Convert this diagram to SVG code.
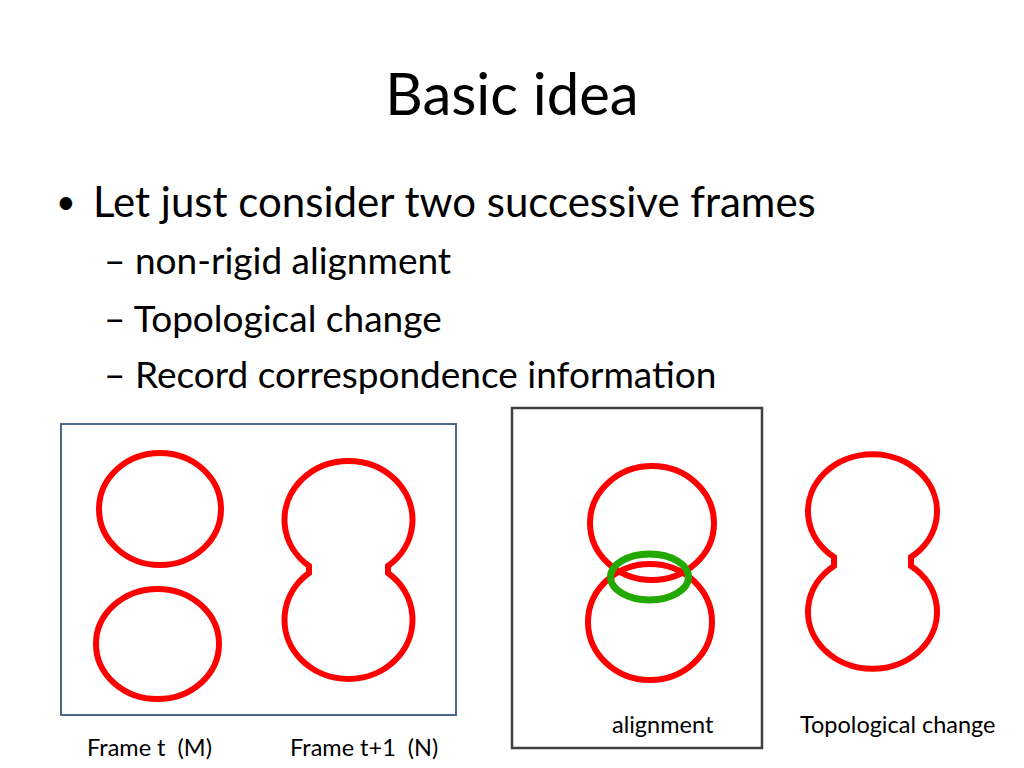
<svg xmlns="http://www.w3.org/2000/svg" width="1024" height="768" viewBox="0 0 1024 768">
<style>
.t{font-family:Lato,"Liberation Sans",sans-serif;fill:#000;white-space:pre}
.red{fill:none;stroke:#ff0000;stroke-width:6}
.grn{fill:none;stroke:#22a800;stroke-width:7}
.lbl{font-size:23.5px}
</style>
<rect width="1024" height="768" fill="#fff"/>
<g id="title"><text class="t" x="512" y="115" font-size="58" text-anchor="middle">Basic idea</text></g>
<g id="bullets">
<text class="t" x="56" y="214" font-size="34">•</text>
<text class="t" x="93" y="217" font-size="42">Let just consider two successive frames</text>
<text class="t" x="104" y="274" font-size="37">– non-rigid alignment</text>
<text class="t" x="104" y="332" font-size="37">– Topological change</text>
<text class="t" x="104" y="388" font-size="37">– Record correspondence information</text>
</g>
<g id="frames-box">
<rect x="61" y="424" width="395" height="291" fill="none" stroke="#4a6790" stroke-width="2"/>
<ellipse class="red" cx="160" cy="509" rx="61" ry="56"/>
<ellipse class="red" cx="157.5" cy="644" rx="61.5" ry="55"/>
<path class="red" d="M309,566 A64,58.8 0 1 1 388,566 L388,573 A64,59.3 0 1 1 309,573 Z"/>
</g>
<g id="alignment-box">
<rect x="512" y="408" width="250" height="340" fill="none" stroke="#404040" stroke-width="2.5"/>
<ellipse class="red" cx="652" cy="523" rx="62" ry="57"/>
<ellipse class="red" cx="650" cy="622" rx="62" ry="58"/>
<ellipse class="grn" cx="649.5" cy="577" rx="39" ry="23"/>
</g>
<g id="topo">
<path class="red" d="M834,557 A64.5,57 0 1 1 911,557 L911,566 A64.5,57 0 1 1 834,566 Z"/>
</g>
<g id="labels">
<text class="t lbl" x="87" y="756">Frame t  (M)</text>
<text class="t lbl" x="290" y="756">Frame t+1  (N)</text>
<text class="t lbl" x="612" y="733">alignment</text>
<text class="t lbl" x="800" y="733">Topological change</text>
</g>
</svg>
